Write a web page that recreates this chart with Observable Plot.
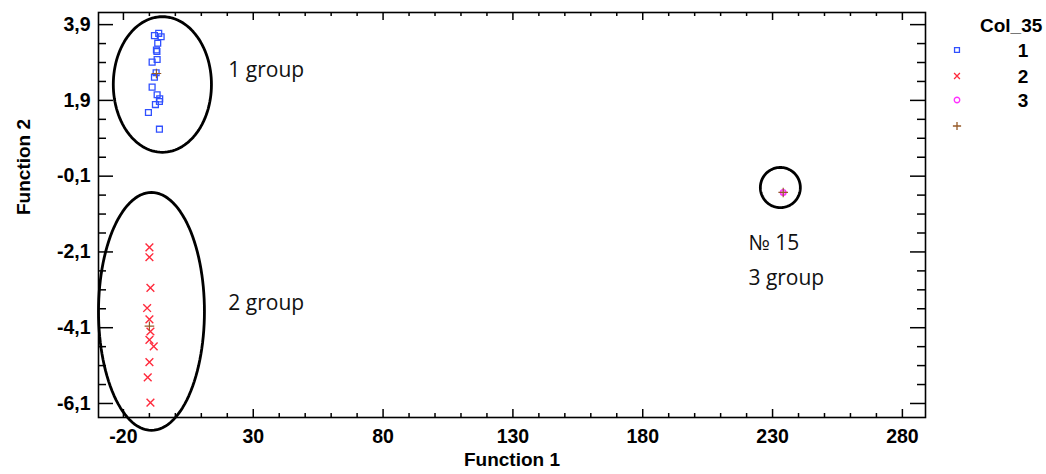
<!DOCTYPE html>
<html><head><meta charset="utf-8">
<script src="https://cdn.jsdelivr.net/npm/d3@7"></script>
<script src="https://cdn.jsdelivr.net/npm/@observablehq/plot@0.6"></script>
<style>
body{margin:0;background:#fff;}
#wrap{position:relative;width:1046px;height:474px;}
#legend{position:absolute;left:0;top:0;pointer-events:none;}
</style></head><body><div id="wrap"></div>
<script>
// ---- data ----
const group1X = [-8.06, -6.41, -5.48, -6.79, -7.29, -7.10, -7.02, -8.95, -7.41, -8.06, -8.95, -7.02, -6.02, -6.14, -7.68, -10.37, -6.14];
const group1Y = [3.61, 3.67, 3.58, 3.41, 3.23, 3.19, 2.98, 2.91, 2.63, 2.51, 2.25, 2.05, 1.94, 1.87, 1.79, 1.58, 1.14];
const group2X = [-9.99, -9.99, -9.60, -10.87, -9.99, -9.60, -9.99, -8.33, -9.99, -10.64, -9.60];
const group2Y = [-1.98, -2.24, -3.05, -3.58, -3.88, -4.20, -4.42, -4.59, -5.01, -5.41, -6.08];
const group3X = [234.1];
const group3Y = [-0.53];
const centroidX = [-7.29, -9.99, 234.1];
const centroidY = [2.61, -4.06, -0.53];

const legendLabels = ["1", "2", "3", ""];
const legendTitle = "Col_35";

const xMajorTicks = [-20, 30, 80, 130, 180, 230, 280];
const yMajorTicks = [3.9, 1.9, -0.1, -2.1, -4.1, -6.1];
const xMinorTicks = [-10, 0, 10, 20, 40, 50, 60, 70, 90, 100, 110, 120, 140, 150, 160, 170, 190, 200, 210, 220, 240, 250, 260, 270];
const yMinorTicks = [3.4, 2.9, 2.4, 1.4, 0.9, 0.4, -0.6, -1.1, -1.6, -2.6, -3.1, -3.6, -4.6, -5.1, -5.6];

// hand-drawn group ellipses (centre and radii in data units)
const ellipseCX = [-5.0, -9.2, 233.0];
const ellipseCY = [2.32, -3.67, -0.40];
const ellipseRX = [18.9, 20.4, 7.7];
const ellipseRY = [1.79, 3.14, 0.53];

const noteText = ["1 group", "2 group", "№ 15", "3 group"];
const noteX = [20.4, 20.4, 220.7, 220.7];
const noteY = [2.69, -3.46, -1.88, -2.80];

// ---- build tables ----
const zip = (xs, ys) => xs.map((x, i) => ({x, y: ys[i]}));
const g1 = zip(group1X, group1Y), g2 = zip(group2X, group2Y), g3 = zip(group3X, group3Y), gc = zip(centroidX, centroidY);
const ellipsePts = ellipseCX.flatMap((cx, i) =>
  d3.range(0, 361, 3).map(a => ({id: i, x: cx + ellipseRX[i] * Math.cos(a * Math.PI / 180), y: ellipseCY[i] + ellipseRY[i] * Math.sin(a * Math.PI / 180)})));
const notes = noteText.map((t, i) => ({t, x: noteX[i], y: noteY[i]}));

const W = 1046, H = 474, mL = 98, mR = 121, mT = 12, mB = 57;
const fW = W - mL - mR, fH = H - mT - mB;
const BLUE = "#3050ff", RED = "#ff2a3c", MAG = "#ff30ff", BROWN = "#965a28";
const FONT = "Liberation Sans, Arial, sans-serif";

const chart = Plot.plot({
  width: W, height: H,
  marginLeft: mL, marginRight: mR, marginTop: mT, marginBottom: mB,
  style: {fontFamily: FONT, fontSize: "19px", fontWeight: "bold", background: "white", color: "black"},
  x: {domain: [-29.6, 288.9], label: null},
  y: {domain: [-6.47, 4.22], label: null},
  marks: [
    Plot.tickY(yMajorTicks, {y: d => d, insetRight: fW - 15, stroke: "black", strokeWidth: 1.5}),
    Plot.tickY(yMinorTicks, {y: d => d, insetRight: fW - 8, stroke: "black", strokeWidth: 1.5}),
    Plot.tickY(yMajorTicks, {y: d => d, insetLeft: fW - 15, stroke: "black", strokeWidth: 1.5}),
    Plot.tickY(yMinorTicks, {y: d => d, insetLeft: fW - 8, stroke: "black", strokeWidth: 1.5}),
    Plot.tickX(xMajorTicks, {x: d => d, insetTop: fH - 8, stroke: "black", strokeWidth: 1.5}),
    Plot.tickX(xMinorTicks, {x: d => d, insetTop: fH - 4, stroke: "black", strokeWidth: 1.5}),
    Plot.tickX(xMajorTicks, {x: d => d, insetBottom: fH - 8, stroke: "black", strokeWidth: 1.5}),
    Plot.tickX(xMinorTicks, {x: d => d, insetBottom: fH - 4, stroke: "black", strokeWidth: 1.5}),
    Plot.frame({stroke: "black", strokeWidth: 1.6}),
    Plot.axisX({ticks: xMajorTicks, tickSize: 0, tickPadding: 12, tickFormat: d => String(d), fontSize: 19.5, fontWeight: "bold", fill: "black"}),
    Plot.axisY({ticks: yMajorTicks, tickSize: 0, tickPadding: 8, tickFormat: d => d.toFixed(1).replace(".", ","), fontSize: 19.5, fontWeight: "bold", fill: "black"}),
    Plot.text(["Function 1"], {frameAnchor: "bottom", dy: 48, text: d => d, fontSize: 19, fontWeight: "bold", fill: "black"}),
    Plot.text(["Function 2"], {frameAnchor: "left", dx: -75, rotate: -90, text: d => d, fontSize: 19, fontWeight: "bold", fill: "black"}),
    Plot.line(ellipsePts, {x: "x", y: "y", z: "id", stroke: "black", strokeWidth: 2.8, clip: false}),
    Plot.dot(g1, {x: "x", y: "y", symbol: "square", r: 3.3, stroke: BLUE, fill: "none", strokeWidth: 1.3}),
    Plot.dot(g2, {x: "x", y: "y", symbol: "times", r: 3.6, stroke: RED, fill: "none", strokeWidth: 1.4}),
    Plot.dot(g3, {x: "x", y: "y", symbol: "circle", r: 2.8, stroke: MAG, fill: MAG, fillOpacity: 0.5, strokeWidth: 1.4}),
    Plot.dot(gc, {x: "x", y: "y", symbol: "plus", r: 3.2, stroke: BROWN, fill: "none", strokeWidth: 1.2}),
    Plot.text(notes, {x: "x", y: "y", text: "t", textAnchor: "start", fontFamily: "Open Sans, sans-serif", fontWeight: "normal", fontSize: 21, fill: "#111"})
  ]
});
const wrap = document.getElementById("wrap");
wrap.appendChild(chart);

// ---- legend ----
const legendColors = [BLUE, RED, MAG, BROWN];
const legendSymbols = [d3.symbolSquare, d3.symbolTimes, d3.symbolCircle, d3.symbolPlus];
const legendRowY = [50, 76, 100, 126];
const lg = d3.select(wrap).append("svg").attr("id", "legend").attr("width", W).attr("height", H)
  .style("font-family", FONT).style("font-weight", "bold").style("font-size", "19px");
lg.append("text").attr("x", 980).attr("y", 32).text(legendTitle);
legendLabels.forEach((lab, i) => {
  lg.append("path").attr("transform", `translate(957,${legendRowY[i]})`)
    .attr("d", d3.symbol(legendSymbols[i], 24)())
    .attr("fill", "none").attr("stroke", legendColors[i]).attr("stroke-width", 1.3);
  if (lab) lg.append("text").attr("x", 1023).attr("y", legendRowY[i]).attr("dy", "0.36em").attr("text-anchor", "middle").text(lab);
});
</script></body></html>
